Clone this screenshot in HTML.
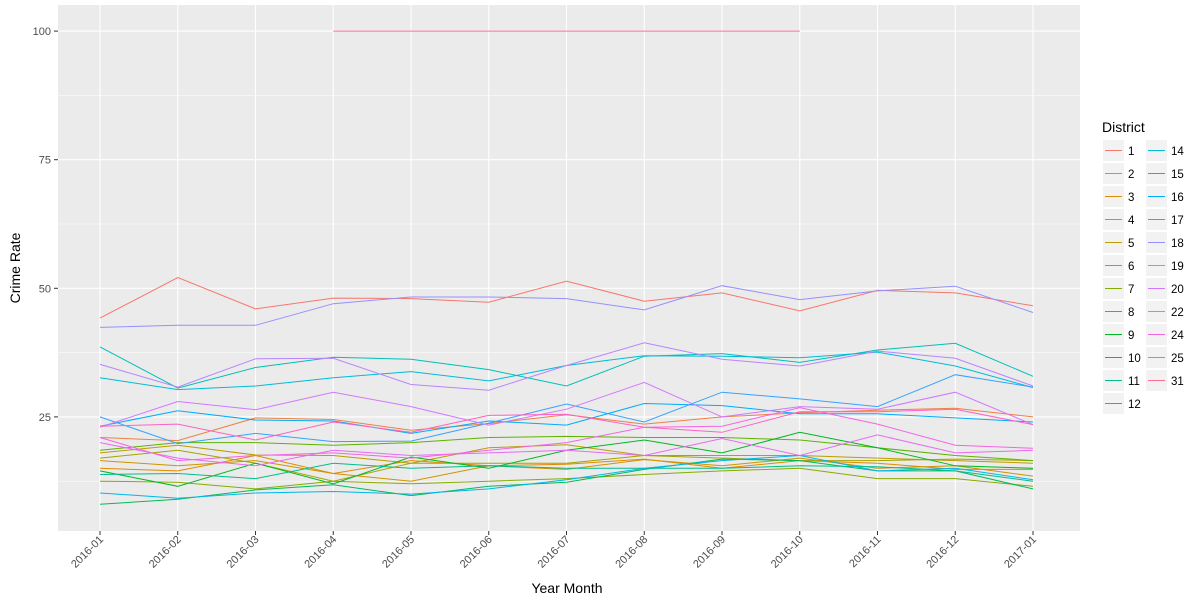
<!DOCTYPE html>
<html><head><meta charset="utf-8"><style>
body{margin:0;background:#fff;font-family:"Liberation Sans",sans-serif;}
svg text{font-family:"Liberation Sans",sans-serif;}
</style></head><body>
<svg id="chart" width="1200" height="600" xmlns="http://www.w3.org/2000/svg">
<rect x="58" y="5" width="1022" height="526" fill="#EBEBEB"/>
<g id="grid"></g><g id="lines"></g><g id="axes"></g><g id="legend"></g>
<text x="567" y="593" font-size="14" text-anchor="middle" fill="#000">Year Month</text>
<text transform="translate(20,268) rotate(-90)" font-size="14" text-anchor="middle" fill="#000">Crime Rate</text>
</svg>
<script>
const months=["2016-01","2016-02","2016-03","2016-04","2016-05","2016-06","2016-07","2016-08","2016-09","2016-10","2016-11","2016-12","2017-01"];
const yTicks=[25,50,75,100];
const districts=["1","2","3","4","5","6","7","8","9","10","11","12","14","15","16","17","18","19","20","22","24","25","31"];
const colors=["#F8766D","#EE8044","#E08B00","#CF9400","#BB9D00","#A3A500","#87AC00","#5EB300","#00B81F","#00BC59","#00BF8A","#00C0B5","#00BCD8","#00B6EB","#00ADFA","#35A2FF","#9590FF","#B983FF","#D177FF","#E76BF3","#F564E3","#FF61C3","#FF6C91"];
const s1=[44.2,52.1,46,48.1,48,47.3,51.4,47.5,49.1,45.6,49.6,49.1,46.6];
const s2=[21,20.4,24.8,24.5,22.4,23.7,25.4,23.6,25,25.8,26.3,26.7,25];
const s3=[15,14.5,17.5,14,16.5,15.5,15.8,16.8,15,16.5,16,14.8,14.8];
const s4=[16.5,15.5,16.5,14,12.5,15.5,14.8,16.7,15.5,17,15,15.5,13.5];
const s5=[18,19.5,17.6,17.5,16,19,19.6,17.5,17.5,17.5,17,16.5,16];
const s6=[17,18.5,16,12.5,16,16,16,17.5,17,16.5,16.5,16.8,16.5];
const s7=[12.5,12.3,11,12.5,12,12.5,13,13.8,14.5,15,13,13,11.5];
const s8=[18.5,20,20,19.5,20,21,21.2,21,21,20.5,19,17.5,16.5];
const s9=[14.5,11.5,16,12,17.2,15,18.5,20.5,18,22,19,15.5,15];
const s10=[8,9,10.8,11.8,9.7,11.5,12.3,14.8,16.8,16.5,14.5,14.5,11];
const s11=[13.8,14,13,16,15,15.5,15,15,15,15.5,15.3,14.5,12.5];
const s12=[38.6,30.6,34.6,36.6,36.2,34.2,31,36.8,37.3,35.6,38,39.3,32.9];
const s14=[32.6,30.3,31,32.6,33.8,32,35,36.9,36.8,36.5,37.6,34.9,30.7];
const s15=[10.2,9.2,10.2,10.5,10,11,12.8,15,16.5,17.5,14.5,15,12.8];
const s16=[23.2,26.2,24.4,24.2,21.8,24.2,23.4,27.6,27.2,25.6,25.6,24.8,24];
const s17=[25,19.8,21.8,20.2,20.3,23.8,27.5,24,29.8,28.5,27,33.2,30.8];
const s18=[42.4,42.8,42.8,47,48.3,48.3,48,45.8,50.5,47.8,49.5,50.4,45.3];
const s19=[35.2,30.8,36.3,36.4,31.3,30.2,35,39.4,36.2,34.9,37.8,36.4,31];
const s20=[23,28,26.4,29.8,27,23.4,26.5,31.7,25,27,26.5,29.8,23.5];
const s22=[20,17,15.5,18.5,17.5,18,18.5,17.5,20.8,17.5,21.5,18,18.5];
const s24=[21,16.5,17.5,18,17,18.5,20,23,23.2,26.8,23.6,19.5,18.9];
const s25=[23.2,23.6,20.5,24,22,25.3,25.5,23,22,26,26,26.5,23.5];
const s31=[null,null,null,100,100,100,100,100,100,100,null,null,null];
const series=[s1,s2,s3,s4,s5,s6,s7,s8,s9,s10,s11,s12,s14,s15,s16,s17,s18,s19,s20,s22,s24,s25,s31];
const NS="http://www.w3.org/2000/svg";
const xS=i=>100+i*(1033-100)/(months.length-1);
const yS=v=>545.5-v*(128.6/25);
function mk(t,a,p){const e=document.createElementNS(NS,t);for(const k in a)e.setAttribute(k,a[k]);p.appendChild(e);return e;}
const grid=document.getElementById('grid'),axes=document.getElementById('axes'),lines=document.getElementById('lines'),leg=document.getElementById('legend');
[12.5,37.5,62.5,87.5].forEach(v=>{const l=mk('line',{x1:58,x2:1080,y1:yS(v),y2:yS(v),stroke:'#fff','stroke-width':0.5},grid);

});
yTicks.forEach(v=>{const l=mk('line',{x1:58,x2:1080,y1:yS(v),y2:yS(v),stroke:'#fff','stroke-width':1.1},grid);


const t=mk('text',{x:51,y:yS(v)+4,'font-size':11,'text-anchor':'end',fill:'#4D4D4D'},axes);t.textContent=v;


const tk=mk('line',{x1:54,x2:58,y1:yS(v),y2:yS(v),stroke:'#333'},axes);

});
months.forEach((m,i)=>{const x=xS(i);const l=mk('line',{x1:x,x2:x,y1:5,y2:531,stroke:'#fff','stroke-width':1.1},grid);


const tk=mk('line',{x1:x,x2:x,y1:531,y2:535,stroke:'#333'},axes);


const t=mk('text',{transform:`translate(${x+4},${540}) rotate(-45)`,'font-size':11,'text-anchor':'end',fill:'#4D4D4D'},axes);t.textContent=m;

});
series.forEach((s,k)=>{let d='';let pen=false;s.forEach((v,i)=>{if(v==null){pen=false;return;}d+=(pen?'L':'M')+xS(i).toFixed(1)+','+yS(v).toFixed(1);pen=true;});
const p=mk('path',{d:d,fill:'none',stroke:colors[k],'stroke-width':1},lines);

});
const lt=mk('text',{x:1102,y:132,'font-size':14,fill:'#000'},leg);lt.textContent='District';


districts.forEach((d,k)=>{const col=k<12?0:1,row=k<12?k:k-12;const x=1103+col*43,y=140+row*23;
const g=mk('g',{},leg);


mk('rect',{x:x,y:y,width:21,height:21,fill:'#F2F2F2'},g);
mk('line',{x1:x+2,x2:x+19,y1:y+10.5,y2:y+10.5,stroke:colors[k]},g);
const t=mk('text',{x:x+25,y:y+15,'font-size':11.5,fill:'#000'},g);t.textContent=d;});
</script>
</body></html>
